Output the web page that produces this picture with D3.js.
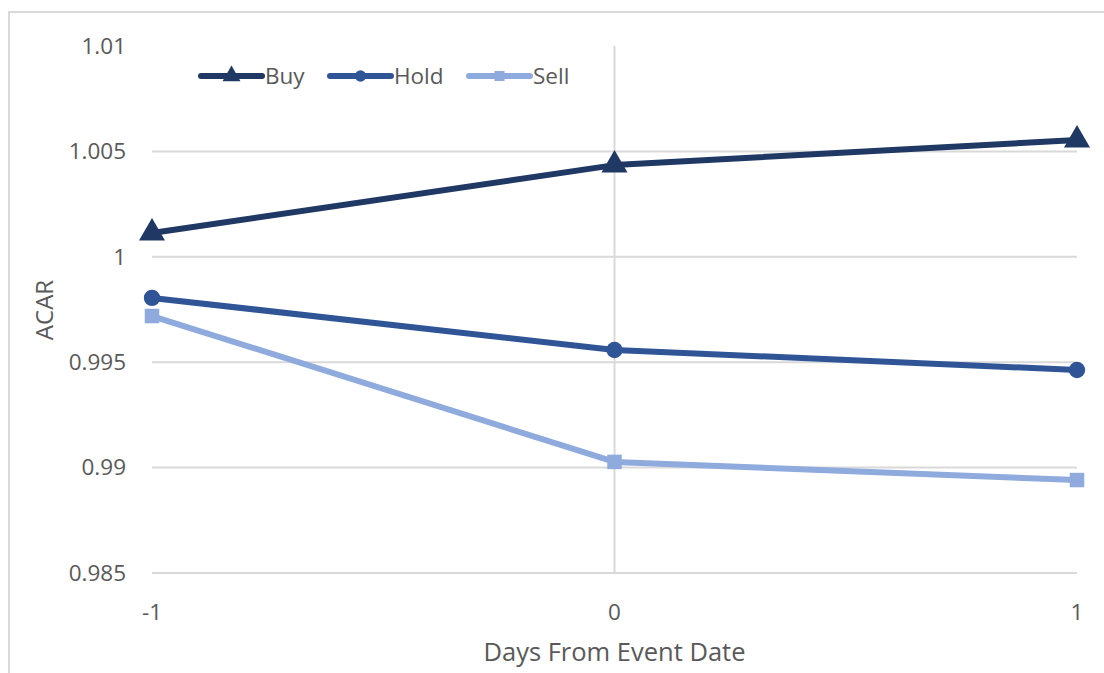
<!DOCTYPE html>
<html>
<head>
<meta charset="utf-8">
<script src="https://cdn.jsdelivr.net/npm/d3@7"></script>
<style>
  body { margin: 0; background: #fff; }
  text { font-family: "Open Sans", Lato, sans-serif; fill: #595959; }
</style>
</head>
<body>
<script>
let width = 1104
let height = 673

let days = [-1, 0, 1]
let yTicks = [0.985, 0.99, 0.995, 1, 1.005, 1.01]
let buy = [1.00113, 1.00435, 1.00554]
let hold = [0.99805, 0.99558, 0.99463]
let sell = [0.99719, 0.99027, 0.98941]

let series = [
    {name: "Buy", values: buy, color: "#203864", shape: "triangle"},
    {name: "Hold", values: hold, color: "#2f5597", shape: "circle"},
    {name: "Sell", values: sell, color: "#8faadc", shape: "square"}
]

let svg = d3.select("body")
    .append("svg")
    .attr("width", width)
    .attr("height", height)

// outer chart border
svg.append("rect")
    .attr("x", 9)
    .attr("y", 12)
    .attr("width", 1200)
    .attr("height", 800)
    .attr("fill", "none")
    .attr("stroke", "#d9d9d9")
    .attr("stroke-width", 2)

let x = d3.scaleLinear().domain([-1, 1]).range([152, 1077])
let y = d3.scaleLinear().domain([0.985, 1.01]).range([573, 46])

let g = svg.append("g")

// horizontal gridlines (top one not drawn)
g.selectAll("line.grid")
    .data(yTicks.filter(d => d < 1.009))
    .enter()
    .append("line")
    .attr("class", "grid")
    .attr("x1", x(-1))
    .attr("x2", x(1))
    .attr("y1", d => y(d))
    .attr("y2", d => y(d))
    .attr("stroke", "#d9d9d9")
    .attr("stroke-width", 2)

// vertical axis at x = 0
g.append("line")
    .attr("x1", x(0))
    .attr("x2", x(0))
    .attr("y1", y(1.01))
    .attr("y2", y(0.985))
    .attr("stroke", "#d9d9d9")
    .attr("stroke-width", 2)

// y tick labels
g.selectAll("text.ytick")
    .data(yTicks)
    .enter()
    .append("text")
    .attr("class", "ytick")
    .attr("x", 126)
    .attr("y", d => y(d))
    .attr("dy", "0.35em")
    .attr("text-anchor", "end")
    .attr("font-size", 22.5)
    .text(d => d3.format("")(+d.toFixed(3)))

// x tick labels
g.selectAll("text.xtick")
    .data(days)
    .enter()
    .append("text")
    .attr("class", "xtick")
    .attr("x", d => x(d))
    .attr("y", 612)
    .attr("dy", "0.35em")
    .attr("text-anchor", "middle")
    .attr("font-size", 22.5)
    .text(d => d)

svg.append("text")
    .attr("x", x(0))
    .attr("y", 652)
    .attr("dy", "0.35em")
    .attr("text-anchor", "middle")
    .attr("font-size", 25.5)
    .text("Days From Event Date")

svg.append("text")
    .attr("transform", "translate(45," + 310 + ") rotate(-90)")
    .attr("dy", "0.35em")
    .attr("text-anchor", "middle")
    .attr("font-size", 24)
    .text("ACAR")

let line = d3.line()
    .x((d, i) => x(days[i]))
    .y(d => y(d))

function marker(sel, shape, color, size) {
    if (shape == "triangle") {
        sel.append("path")
            .attr("d", d3.symbol().type(d3.symbolTriangle).size(size * 1.4)())
            .attr("fill", color)
    } else if (shape == "circle") {
        sel.append("circle").attr("r", Math.sqrt(size / Math.PI)).attr("fill", color)
    } else {
        let s = Math.sqrt(size)
        sel.append("rect").attr("x", -s / 2).attr("y", -s / 2).attr("width", s).attr("height", s).attr("fill", color)
    }
}

series.forEach(function(s) {
    g.append("path")
        .datum(s.values)
        .attr("d", line)
        .attr("fill", "none")
        .attr("stroke", s.color)
        .attr("stroke-width", 6)
        .attr("stroke-linejoin", "round")

    s.values.forEach(function(v, i) {
        let m = g.append("g").attr("transform", "translate(" + x(days[i]) + "," + y(v) + ")")
        marker(m, s.shape, s.color, 210)
    })
})

// legend
let legendX = [201, 330, 469]
series.forEach(function(s, i) {
    let lg = svg.append("g").attr("transform", "translate(" + legendX[i] + ",76)")
    lg.append("line")
        .attr("x1", 0)
        .attr("x2", 61)
        .attr("stroke", s.color)
        .attr("stroke-width", 6)
        .attr("stroke-linecap", "round")
    let m = lg.append("g").attr("transform", "translate(30.5,0)")
    marker(m, s.shape, s.color, 100)
    lg.append("text")
        .attr("x", 64)
        .attr("dy", "0.35em")
        .attr("font-size", 22.5)
        .text(s.name)
})
</script>
</body>
</html>
